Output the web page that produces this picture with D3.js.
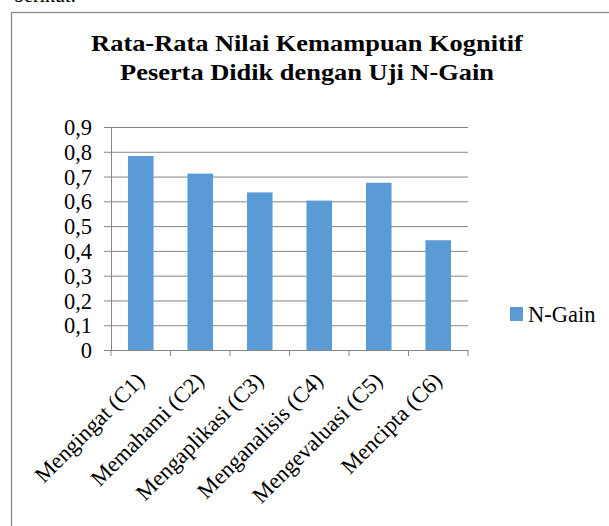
<!DOCTYPE html>
<html>
<head>
<meta charset="utf-8">
<script src="https://cdn.jsdelivr.net/npm/d3@7"></script>
<style>
  html, body { margin: 0; padding: 0; background: #ffffff; }
  svg { display: block; }
  text { font-family: "Liberation Serif", "Times New Roman", serif; fill: #000; }
</style>
</head>
<body>
<svg id="chart" width="609" height="526"></svg>
<script>
const categories = ["Mengingat (C1)", "Memahami (C2)", "Mengaplikasi (C3)", "Menganalisis (C4)", "Mengevaluasi (C5)", "Mencipta (C6)"];
const nGain = [0.783, 0.712, 0.636, 0.603, 0.675, 0.443];
const yTicks = [0, 0.1, 0.2, 0.3, 0.4, 0.5, 0.6, 0.7, 0.8, 0.9];
const seriesName = "N-Gain";
const titleLines = ["Rata-Rata Nilai Kemampuan Kognitif", "Peserta Didik dengan Uji N-Gain"];

const svg = d3.select("#chart");
const W = 609, H = 526;
const plot = { left: 111, right: 468, top: 127, bottom: 350 };
const gridColor = "#868686";

// partial caption text above the chart frame (cut off at the top, as in the source)
svg.append("text").attr("x", 14).attr("y", 2).style("font-size", "20px").text("berikut.");

// chart frame
svg.append("rect")
  .attr("x", 11.5).attr("y", 12.5)
  .attr("width", W + 20).attr("height", H + 20)
  .attr("fill", "none").attr("stroke", "#8a8a8a").attr("stroke-width", 1.3);

// title
titleLines.forEach((t, i) => {
  svg.append("text")
    .attr("transform", `translate(307,${51 + i * 28.5}) scale(1.1,1)`)
    .attr("text-anchor", "middle")
    .style("font-size", "24px").style("font-weight", "bold")
    .text(t);
});

const y = d3.scaleLinear().domain([0, 0.9]).range([plot.bottom, plot.top]);
const x = d3.scaleBand().domain(categories).range([plot.left, plot.right])
  .paddingInner(0.57).paddingOuter(0.285);

const fmt = v => v === 0 ? "0" : d3.format(".1f")(v).replace(".", ",");

// gridlines
const grid = svg.append("g").attr("transform", `translate(${plot.right},0)`)
  .call(d3.axisLeft(y).tickValues(yTicks).tickSize(plot.right - plot.left + 7).tickFormat(""));
grid.select(".domain").remove();
grid.selectAll(".tick line").attr("stroke", gridColor).attr("stroke-width", 1);

// y axis
const yAxis = svg.append("g").attr("transform", `translate(${plot.left},0)`)
  .call(d3.axisLeft(y).tickValues(yTicks).tickSize(0).tickSizeOuter(0).tickPadding(19).tickFormat(fmt));
yAxis.select(".domain").attr("stroke", gridColor).attr("stroke-width", 1);
yAxis.selectAll(".tick text")
  .style("font-size", "22.5px")
  .attr("font-family", null)
  .attr("dy", "0.34em");

// bars
svg.append("g").selectAll("rect").data(nGain).join("rect")
  .attr("x", (d, i) => x(categories[i]))
  .attr("y", d => y(d))
  .attr("width", x.bandwidth())
  .attr("height", d => y(0) - y(d))
  .attr("fill", "#5b9bd5");

// x axis line and category boundary ticks
const step = x.step();
const xStart = x(categories[0]) - x.paddingOuter() * step;
svg.append("line")
  .attr("x1", plot.left).attr("x2", plot.right)
  .attr("y1", y(0) + 0.5).attr("y2", y(0) + 0.5)
  .attr("stroke", gridColor).attr("stroke-width", 1);
svg.append("g").selectAll("line").data(d3.range(categories.length + 1)).join("line")
  .attr("x1", i => xStart + i * step).attr("x2", i => xStart + i * step)
  .attr("y1", y(0)).attr("y2", y(0) + 6)
  .attr("stroke", gridColor).attr("stroke-width", 1);

// rotated category labels
svg.append("g").selectAll("text").data(categories).join("text")
  .attr("transform", d => `translate(${x(d) + x.bandwidth() / 2 + 5},${y(0) + 32}) rotate(-45)`)
  .attr("text-anchor", "end")
  .style("font-size", "22.5px")
  .text(d => d);

// legend
const lg = svg.append("g").attr("transform", "translate(510,307)");
lg.append("rect").attr("width", 13).attr("height", 14).attr("fill", "#5b9bd5");
lg.append("text").attr("x", 18).attr("y", 14.5).style("font-size", "22.5px").text(seriesName);
</script>
</body>
</html>
